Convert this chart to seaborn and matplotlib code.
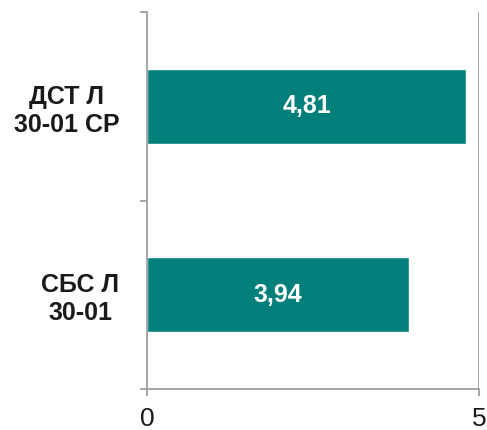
import matplotlib
matplotlib.use('Agg')
import matplotlib.pyplot as plt
import seaborn as sns
import pandas as pd

# data
categories = ['ДСТ Л\n30-01 СР', 'СБС Л\n30-01']
values = [4.81, 3.94]
value_labels = ['4,81', '3,94']

bar_color = '#017F7A'
axis_color = '#A6A6A6'

sns.set_theme(style='white')
plt.rcParams['font.family'] = ['Liberation Sans', 'DejaVu Sans']

df = pd.DataFrame({'category': categories, 'value': values})

fig = plt.figure(figsize=(4.87, 4.30), dpi=100)
ax = fig.add_axes([147 / 487, 1 - 389 / 430, (479 - 147) / 487, (389 - 12) / 430])

sns.barplot(data=df, y='category', x='value', orient='h', color=bar_color,
            saturation=1, width=0.4, ax=ax)

for i, (v, lab) in enumerate(zip(values, value_labels)):
    ax.text(v / 2, i, lab, ha='center', va='center', color='white',
            fontsize=18, fontweight='bold')

ax.set_xlim(0, 5)
ax.set_ylim(1.5, -0.5)
ax.set_xticks([0, 5])
ax.set_xticklabels(['0', '5'], fontsize=19, color='#1A1A1A')
ax.set_yticks([0, 1])
ax.set_yticklabels(categories, fontsize=18, fontweight='bold', color='#1A1A1A',
                   multialignment='center', linespacing=1.2)
ax.set_yticks([-0.5, 0.5, 1.5], minor=True)
ax.tick_params(axis='y', which='major', length=0, pad=20)
ax.tick_params(axis='y', which='minor', length=5, width=1.4, color=axis_color,
               direction='out', left=True)
ax.tick_params(axis='x', length=5, width=1.4, color=axis_color, direction='out',
               bottom=True, pad=8)
ax.set_xlabel('')
ax.set_ylabel('')

ax.xaxis.grid(True, color=axis_color, linewidth=1.4)
ax.set_axisbelow(True)
for side in ['top', 'right']:
    ax.spines[side].set_visible(False)
for side in ['left', 'bottom']:
    ax.spines[side].set_color(axis_color)
    ax.spines[side].set_linewidth(1.4)

fig.savefig('out.png', dpi=100, facecolor='white')
